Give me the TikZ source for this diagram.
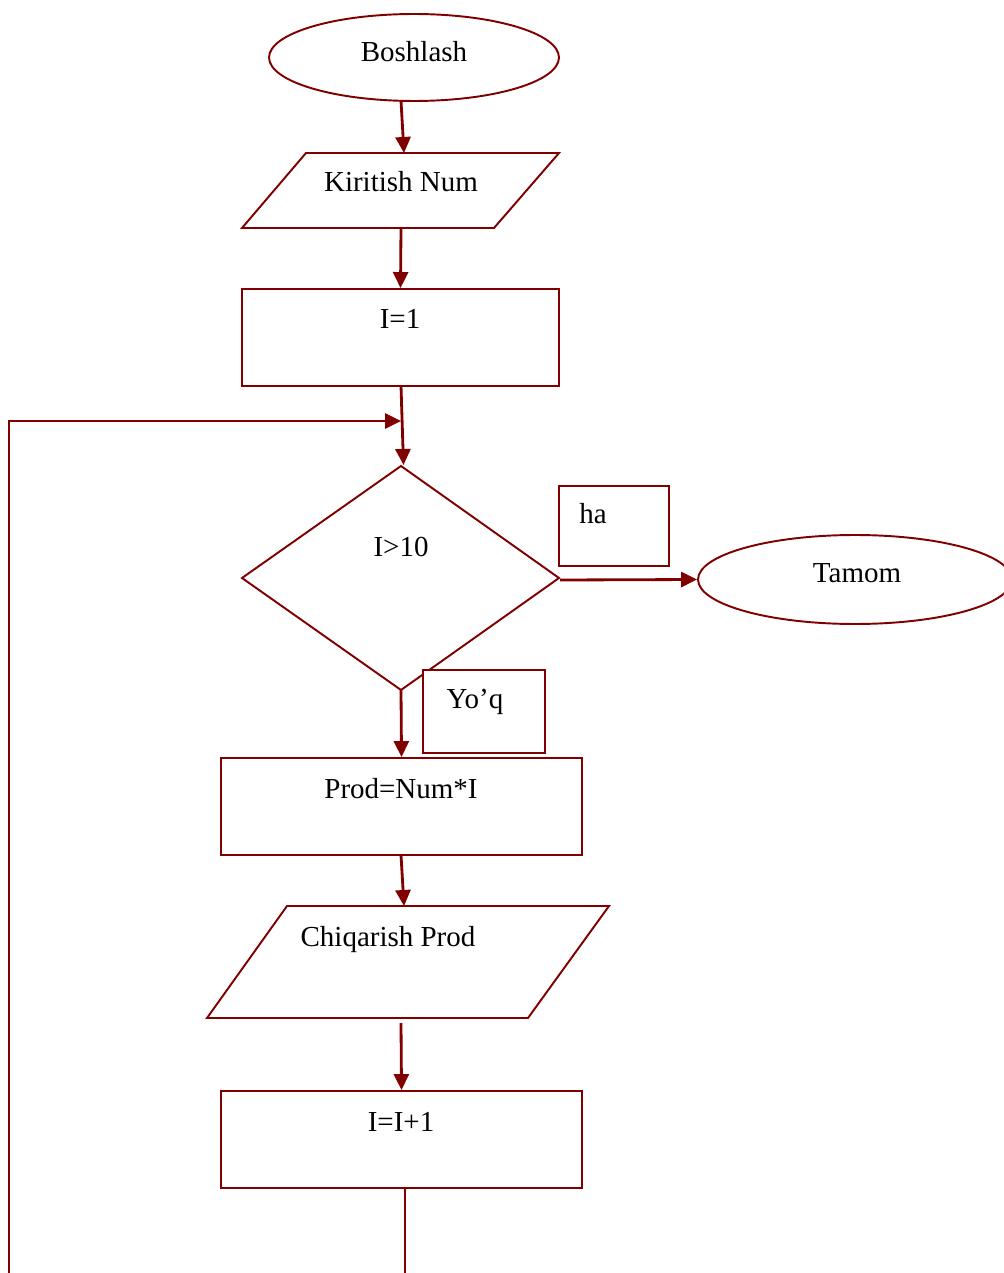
\documentclass[tikz,border=0pt]{standalone}
\usepackage{fontspec}
\setmainfont{Liberation Serif}
\usetikzlibrary{shapes.geometric,arrows.meta}
\definecolor{fcred}{RGB}{128,0,0}
\begin{document}
\begin{tikzpicture}[x=0.02cm,y=-0.02cm,
  shapeline/.style={draw=fcred,line width=1.1pt},
  conn/.style={draw=fcred,line width=1.6pt,-{Triangle[length=0.32cm,width=0.3cm]}},
  plainline/.style={draw=fcred,line width=1.3pt},
  lbl/.style={font=\fontsize{16.5}{20}\selectfont,inner sep=0pt},
  boxnode/.style={rectangle,shapeline,inner sep=0pt},
  ovalnode/.style={ellipse,shapeline,inner sep=0pt}]
\useasboundingbox (0,0) rectangle (1003,1273);

% Start
\node[ovalnode,minimum width=5.8cm,minimum height=1.74cm] (start) at (414,57.5) {};
\node[lbl] (tstart) at (414,52) {Boshlash};

% Input parallelogram
\draw[shapeline] (306,153) -- (559,153) -- (494,228) -- (242,228) -- cycle;
\coordinate (kin) at (404,153);
\coordinate (kout) at (401,228);
\coordinate (sout) at (401,101);
\node[lbl] (tin) at (401,182) {Kiritish Num};

% I=1
\node[boxnode,minimum width=6.34cm,minimum height=1.94cm] (init) at (400.5,337.5) {};
\node[lbl] (tinit) at (400,319) {I=1};

% Decision
\draw[shapeline] (242,578) -- (401,466) -- (559,578) -- (401,690) -- cycle;
\coordinate (dtop) at (403.5,465);
\coordinate (dright) at (560,580);
\coordinate (dbottom) at (401,690);
\node[lbl] (tdec) at (401,547) {I>10};

% ha label box
\node[boxnode,minimum width=2.2cm,minimum height=1.6cm] (habox) at (614,526) {};
\node[lbl] (tha) at (593,514) {ha};

% Tamom
\node[ovalnode,minimum width=6.28cm,minimum height=1.78cm] (stop) at (855,579.5) {};
\node[lbl] (tstop) at (857,573) {Tamom};

% Yo'q label box
\node[boxnode,fill=white,minimum width=2.44cm,minimum height=1.66cm] (yoqbox) at (484,711.5) {};
\node[lbl] (tyoq) at (475,702) {Yo’q};

% Prod
\node[boxnode,minimum width=7.22cm,minimum height=1.94cm] (prod) at (401.5,806.5) {};
\node[lbl] (tprod) at (401,789) {Prod=Num*I};

% Output parallelogram
\draw[shapeline] (287,906) -- (609,906) -- (528,1018) -- (207,1018) -- cycle;
\coordinate (cin) at (404,906);
\coordinate (cout) at (401,1023);
\node[lbl] (tout) at (388,940) {Chiqarish Prod};

% I=I+1
\node[boxnode,minimum width=7.22cm,minimum height=1.94cm] (inc) at (401.5,1139.5) {};
\node[lbl] (tinc) at (401,1122) {I=I+1};

% Connectors
\draw[conn] (sout) -- (kin);
\draw[conn] (kout) -- (init.north);
\coordinate (initout) at (401,386);
\draw[conn] (initout) -- (dtop);
\coordinate (loopstart) at (9,1273);
\coordinate (looptip) at (401,421);
\draw[conn] (loopstart) |- (looptip);
\draw[conn] (dright) -- (stop.west);
\draw[conn] (dbottom) -- (prod.north);
\coordinate (prodout) at (401,855);
\draw[conn] (prodout) -- (cin);
\draw[conn] (cout) -- (inc.north);
\coordinate (incout) at (405,1188);
\coordinate (bottomend) at (405,1273);
\draw[plainline] (incout) -- (bottomend);
\end{tikzpicture}
\end{document}
